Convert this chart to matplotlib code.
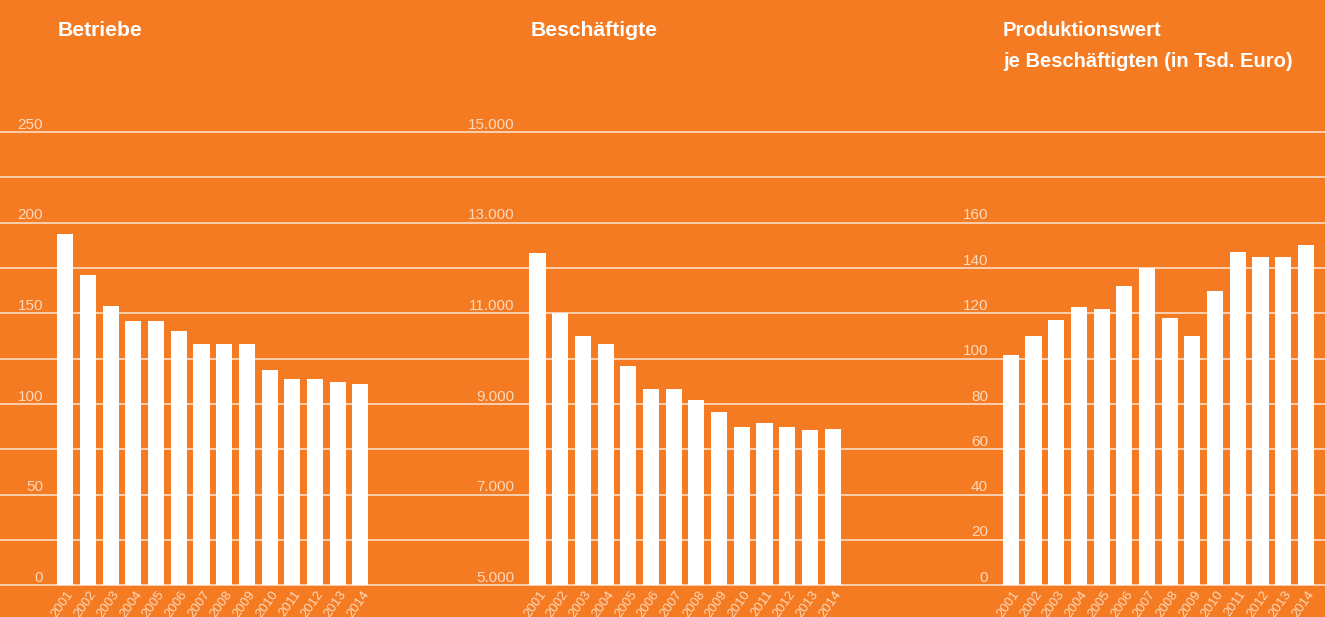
import matplotlib
matplotlib.use("Agg")
import matplotlib.pyplot as plt
from matplotlib import transforms

years = [str(y) for y in range(2001, 2015)]
betriebe = [194, 171, 154, 146, 146, 140, 133, 133, 133, 119, 114, 114, 112, 111]
beschaeftigte = [12330, 11000, 10500, 10320, 9840, 9330, 9330, 9090, 8820, 8490, 8590, 8490, 8430, 8450]
produktionswert = [101.5, 110, 117, 123, 122, 132, 140, 118, 110, 130, 147, 145, 145, 150]

titles = [["Betriebe"], ["Beschäftigte"], ["Produktionswert", "je Beschäftigten (in Tsd. Euro)"]]
title_sizes = [15.2, 15.2, 14.5]
ylims = [(0, 250), (5000, 15000), (0, 200)]
n_grid = 10
label_vals = [[0, 50, 100, 150, 200, 250],
              [5000, 7000, 9000, 11000, 13000, 15000],
              [0, 20, 40, 60, 80, 100, 120, 140, 160]]
label_texts = [["0", "50", "100", "150", "200", "250"],
               ["5.000", "7.000", "9.000", "11.000", "13.000", "15.000"],
               ["0", "20", "40", "60", "80", "100", "120", "140", "160"]]
series = [betriebe, beschaeftigte, produktionswert]

BG = "#F57B22"
PALE = "#FDD9BE"
FONT = ["Liberation Sans", "DejaVu Sans"]

W, H = 1325, 617
fig = plt.figure(figsize=(W / 100, H / 100), dpi=100, facecolor=BG)

bottom_px, top_px = 585.3, 132.0
ax_rect_y = (H - bottom_px) / H
ax_rect_h = (bottom_px - top_px) / H

# background axes carrying the full-width gridlines
gax = fig.add_axes([0, ax_rect_y, 1, ax_rect_h], zorder=0)
gax.set_facecolor(BG)
gax.set_xlim(0, 1)
gax.set_ylim(0, n_grid)
gax.axis("off")
for g in range(n_grid + 1):
    gax.axhline(g, color="white", alpha=0.8, lw=1.1, clip_on=False)

# axes pixel spans: (left px, right px, first bar center px)
spans = [(0, 460, 65.3), (460, 930, 537.5), (930, 1325, 1010.8)]
label_right = [43, 514.5, 988]
title_x = [58, 531, 1003]
spacing = 22.7

for k in range(3):
    x0, x1, c0 = spans[k]
    ax = fig.add_axes([x0 / W, ax_rect_y, (x1 - x0) / W, ax_rect_h], zorder=1)
    ax.set_facecolor("none")
    for s in ax.spines.values():
        s.set_visible(False)
    xmin = -(c0 - x0) / spacing
    xmax = xmin + (x1 - x0) / spacing
    ax.set_xlim(xmin, xmax)
    lo, hi = ylims[k]
    ax.set_ylim(lo, hi)
    ax.set_xticks([])
    ax.set_yticks([])
    xs = list(range(len(years)))
    ax.bar(xs, [val - lo for val in series[k]], bottom=lo, width=0.705,
           color="white", zorder=2)
    # y labels above the gridlines
    trans = transforms.blended_transform_factory(ax.transAxes, ax.transData)
    lx = (label_right[k] - x0) / (x1 - x0)
    for val, txt in zip(label_vals[k], label_texts[k]):
        ax.annotate(txt, xy=(lx, val), xycoords=trans, xytext=(0, 2.5),
                    textcoords="offset points", ha="right", va="baseline",
                    color=PALE, fontsize=11, family=FONT, zorder=3)
    # year labels
    for i, y in enumerate(years):
        ax.annotate(y, xy=(i, lo), xycoords="data", xytext=(0.8, -2.5),
                    textcoords="offset points", ha="right", va="top",
                    rotation=55, rotation_mode="anchor", color=PALE,
                    fontsize=9.5, family=FONT, annotation_clip=False)
    for j, line in enumerate(titles[k]):
        fig.text(title_x[k] / W, 1 - (35.7 + 31 * j) / H, line, ha="left",
                 va="baseline", color="white", fontsize=title_sizes[k],
                 fontweight="bold", family=FONT)

fig.savefig("out.png", dpi=100, facecolor=BG)
